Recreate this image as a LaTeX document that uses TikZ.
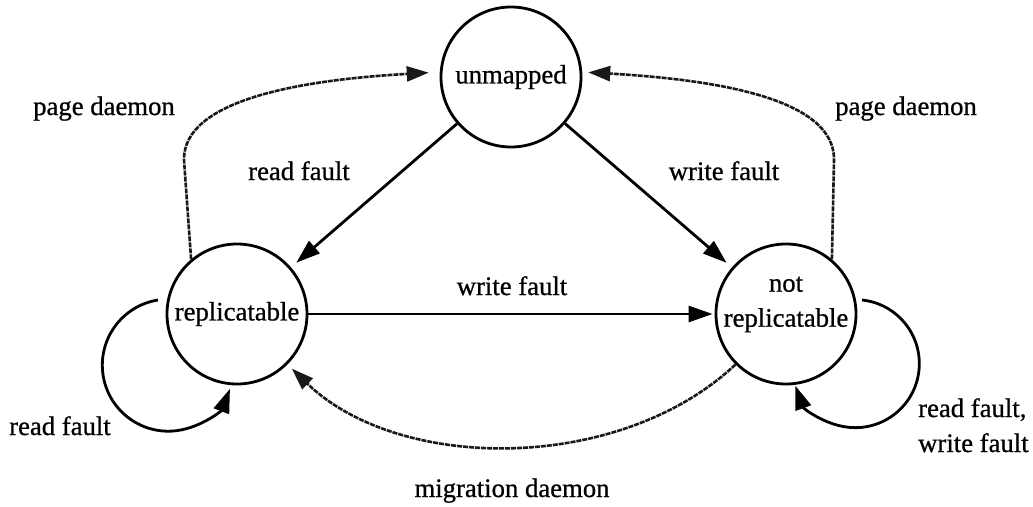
\documentclass[tikz,border=0pt]{standalone}
\usepackage{fontspec}
\setmainfont[FakeBold=0.8]{Liberation Serif}
\usetikzlibrary{arrows.meta}
\begin{document}
\begin{tikzpicture}[x=1pt,y=-1pt,
  every node/.style={font=\fontsize{26.7}{35}\selectfont, inner sep=0pt},
  state/.style={draw, circle, line width=2.8pt, minimum size=140pt},
  tr/.style={line width=2.8pt, -{Triangle[length=24pt,width=16pt]}},
  daemon/.style={line width=2.6pt, draw=black!90, dash pattern=on 5pt off 1pt, -{Triangle[length=22pt,width=15pt]}},
  lbl/.style={anchor=base}]
\useasboundingbox (0,0) rectangle (1033,506);
\node[state] (u) at (511,77) {unmapped};
\node[state] (rp) at (237,314) {replicatable};
\node[state] (nr) at (786,314) {};
\node[align=center] (nrt) at (786,304.5) {not\\replicatable};

\draw[tr, shorten >=7pt] (u) -- (rp);
\draw[tr, shorten >=7pt] (u) -- (nr);
\draw[tr, shorten >=2pt] (rp) -- (nr);
\draw[daemon, shorten >=6pt] (nr.225) .. controls (620,473) and (400,473) .. (rp.-45);
\draw[daemon, shorten >=11pt] (rp.130) -- (184,160) .. controls (183,100) and (300,80) .. (u.176);
\draw[daemon, shorten >=6pt] (nr.50) -- (834,160) .. controls (835,100) and (722,80) .. (u.4);
\draw[tr] ([shift={(-79pt,14pt)}]rp.center) arc[start angle=-99, end angle=-339, radius=66];
\draw[tr] ([shift={(76pt,14pt)}]nr.center) arc[start angle=-84, end angle=160, radius=64];

\node[lbl] (pdl) at (104,115) {page daemon};
\node[lbl] (pdr) at (906,115) {page daemon};
\node[lbl] (rf1) at (299,180) {read fault};
\node[lbl] (wf1) at (724,180) {write fault};
\node[lbl] (wf2) at (512,295) {write fault};
\node[lbl] (rf2) at (60,435) {read fault};
\node[anchor=base west] (rw1) at (918,417) {read fault,};
\node[anchor=base west] (rw2) at (918,452) {write fault};
\node[lbl] (md) at (512,497) {migration daemon};
\end{tikzpicture}
\end{document}
